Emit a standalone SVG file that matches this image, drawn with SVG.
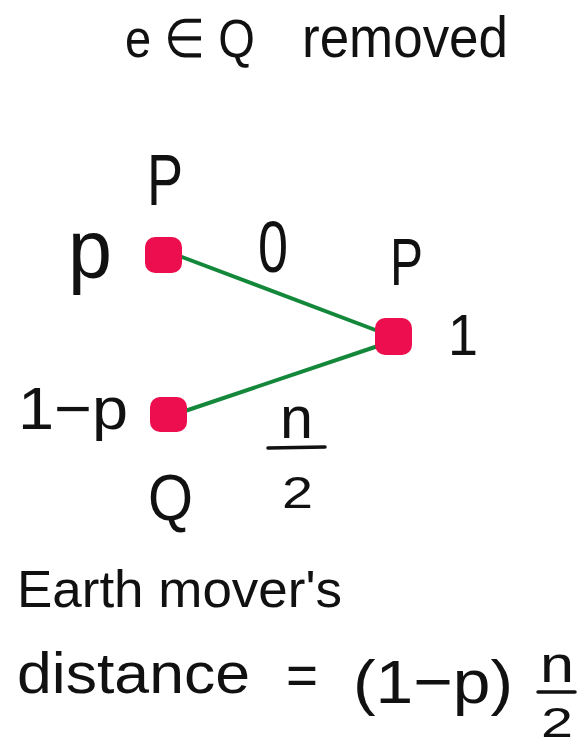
<svg xmlns="http://www.w3.org/2000/svg" width="577" height="748" viewBox="0 0 577 748">
  <style>
    .t { font-family: "Liberation Sans", Arial, sans-serif; fill: #111; }
    .node { fill: #EC0E4F; }
    .edge { stroke: #14883A; stroke-width: 4; stroke-linecap: round; fill: none; }
    .bar { stroke: #111; stroke-width: 3.5; stroke-linecap: round; }
  </style>
  <rect width="577" height="748" fill="#fff"/>

  <g id="title">
    <text class="t" x="125" y="57" font-size="54" textLength="130" lengthAdjust="spacingAndGlyphs">e ∈ Q</text>
    <text class="t" x="302" y="57" font-size="58" textLength="206" lengthAdjust="spacingAndGlyphs">removed</text>
  </g>

  <g id="connectors">
    <line class="edge" x1="182" y1="257" x2="378" y2="331"/>
    <line class="edge" x1="185" y1="411" x2="378" y2="346"/>
  </g>

  <g id="node-p">
    <rect class="node" x="145" y="237" width="37" height="36" rx="10"/>
    <text class="t" x="147" y="205" font-size="72" textLength="36" lengthAdjust="spacingAndGlyphs">P</text>
    <text class="t" x="68" y="278" font-size="84" textLength="44" lengthAdjust="spacingAndGlyphs">p</text>
  </g>

  <g id="node-right">
    <rect class="node" x="375" y="318" width="37" height="37" rx="10"/>
    <text class="t" x="390" y="285" font-size="66" textLength="33" lengthAdjust="spacingAndGlyphs">P</text>
    <text class="t" x="448" y="355" font-size="58" textLength="30" lengthAdjust="spacingAndGlyphs">1</text>
  </g>

  <g id="node-q">
    <rect class="node" x="150" y="397" width="37" height="35" rx="10"/>
    <text class="t" x="18" y="429" font-size="60" textLength="110" lengthAdjust="spacingAndGlyphs">1−p</text>
    <text class="t" x="148" y="520" font-size="64" textLength="45" lengthAdjust="spacingAndGlyphs">Q</text>
  </g>

  <g id="edge-labels">
    <text class="t" x="258" y="272" font-size="72" textLength="30" lengthAdjust="spacingAndGlyphs">0</text>
    <text class="t" x="280" y="438" font-size="60" textLength="33" lengthAdjust="spacingAndGlyphs">n</text>
    <line class="bar" x1="268" y1="448" x2="325" y2="447"/>
    <text class="t" x="282" y="508" font-size="44" textLength="31" lengthAdjust="spacingAndGlyphs">2</text>
  </g>

  <g id="caption">
    <text class="t" x="17" y="607" font-size="52" textLength="325" lengthAdjust="spacingAndGlyphs">Earth mover's</text>
    <text class="t" x="17" y="693" font-size="58" textLength="233" lengthAdjust="spacingAndGlyphs">distance</text>
    <text class="t" x="286" y="695" font-size="58" textLength="32" lengthAdjust="spacingAndGlyphs">=</text>
    <text class="t" x="353" y="703" font-size="62" textLength="160" lengthAdjust="spacingAndGlyphs">(1−p)</text>
    <text class="t" x="540" y="682" font-size="52" textLength="34" lengthAdjust="spacingAndGlyphs">n</text>
    <line class="bar" x1="538" y1="692" x2="575" y2="692"/>
    <text class="t" x="541" y="737" font-size="42" textLength="32" lengthAdjust="spacingAndGlyphs">2</text>
  </g>
</svg>
